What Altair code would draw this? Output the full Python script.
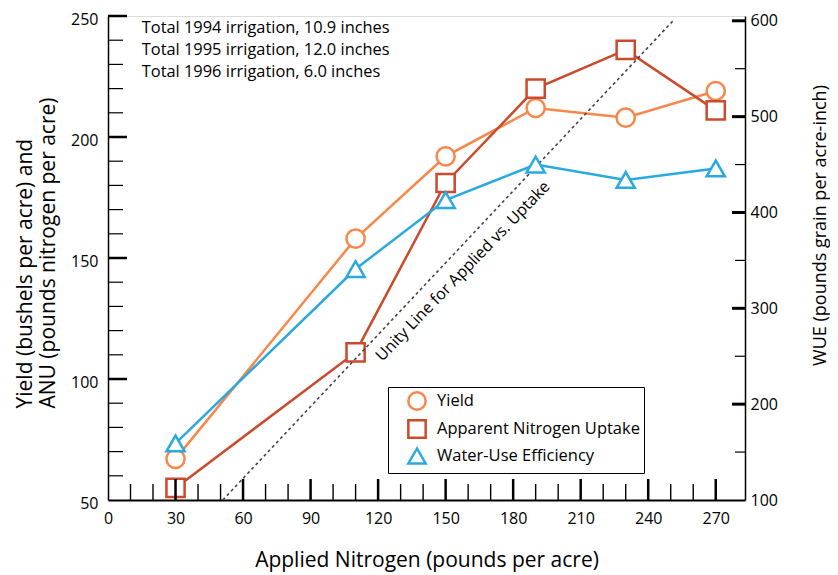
import altair as alt
import pandas as pd

FONT = "Open Sans"

# ---- data ----
nitrogen = [30, 110, 150, 190, 230, 270]
yield_bu = [67, 158, 192, 212, 208, 219]
anu_lb = [55, 111, 181, 220, 236, 211]
wue = [159, 341, 413, 450, 434, 446]

series_names = ["Yield", "Apparent Nitrogen Uptake", "Water-Use Efficiency"]
series_colors = ["#F7874A", "#CC4A2C", "#2AA9E0"]
series_shapes = ["circle", "square", "triangle-up"]

x_labels = [0, 30, 60, 90, 120, 150, 180, 210, 240, 270]
x_minor = [10, 20, 40, 50, 70, 80, 100, 110, 130, 140, 160, 170, 190, 200, 220, 230, 250, 260]
x_major = [30, 60, 90, 120, 150, 180, 210, 240, 270]
left_labels = [50, 100, 150, 200, 250]
left_minor = [60, 70, 80, 90, 110, 120, 130, 140, 160, 170, 180, 190, 210, 220, 230, 240]
left_major = [100, 150, 200, 250]
right_labels = [100, 200, 300, 400, 500, 600]
right_minor = [150, 250, 350, 450, 550]
right_major = [200, 300, 400, 500, 600]

unity_n = [51, 251]
unity_v = [50, 248]
unity_label = ["Unity Line for Applied vs. Uptake"]
unity_label_n = [157.7]
unity_label_v = [144.5]

notes = ["Total 1994 irrigation, 10.9 inches",
         "Total 1995 irrigation, 12.0 inches",
         "Total 1996 irrigation, 6.0 inches"]
notes_n = [15, 15, 15]
notes_v = [245, 236, 227]

# ---- tables ----
all_df = pd.DataFrame({
    "n": nitrogen * 3,
    "v": yield_bu + anu_lb + wue,
    "series": [series_names[0]] * len(nitrogen) + [series_names[1]] * len(nitrogen)
              + [series_names[2]] * len(nitrogen),
})
left_df = all_df[all_df["series"] != series_names[2]]
right_df = all_df[all_df["series"] == series_names[2]]
unity_df = pd.DataFrame({"n": unity_n, "v": unity_v})
unity_text_df = pd.DataFrame({"n": unity_label_n, "v": unity_label_v, "t": unity_label})
notes_df = pd.DataFrame({"n": notes_n, "v": notes_v, "t": notes})
xminor_df = pd.DataFrame({"n": x_minor, "v": [50] * len(x_minor)})
xmajor_df = pd.DataFrame({"n": x_major, "v": [50] * len(x_major)})
lminor_df = pd.DataFrame({"n": [0] * len(left_minor), "v": left_minor})
lmajor_df = pd.DataFrame({"n": [0] * len(left_major), "v": left_major})
rminor_df = pd.DataFrame({"n": [283] * len(right_minor), "v": right_minor})
rmajor_df = pd.DataFrame({"n": [283] * len(right_major), "v": right_major})

# ---- scales / axes ----
x_scale = alt.Scale(domain=[0, 283], nice=False, zero=False)
yl_scale = alt.Scale(domain=[50, 250], nice=False, zero=False)
yr_scale = alt.Scale(domain=[100, 605], nice=False, zero=False)

x_axis = alt.Axis(values=x_labels, ticks=False, grid=False, domainColor="black", domainWidth=1.8,
                  labelFontSize=16, labelFont=FONT, labelColor="black", labelPadding=10,
                  labelFlush=False, labelOverlap=False,
                  title="Applied Nitrogen (pounds per acre)", titleFont=FONT, titleFontSize=21,
                  titleFontWeight="normal", titleColor="black", titleY=60, titleBaseline="middle")
yl_axis = alt.Axis(values=left_labels, ticks=False, grid=False, domainColor="black", domainWidth=1.5,
                   labelFontSize=16, labelFont=FONT, labelColor="black", labelPadding=10,
                   labelOffset=3, labelFlush=False, labelOverlap=False,
                   title=["Yield (bushels per acre) and", "ANU (pounds nitrogen per acre)"],
                   titleFont=FONT, titleFontSize=21, titleFontWeight="normal", titleColor="black",
                   titleAngle=270, titleX=-83, titleY=392, titleBaseline="middle",
                   titleAlign="left", titleLineHeight=23)
yr_axis = alt.Axis(values=right_labels, ticks=False, grid=False, domainColor="black", domainWidth=1.5,
                   labelFontSize=16, labelFont=FONT, labelColor="black", labelPadding=5,
                   labelFlush=False, labelOverlap=False, orient="right",
                   title="WUE (pounds grain per acre-inch)", titleFont=FONT, titleFontSize=18,
                   titleFontWeight="normal", titleColor="black", titleAngle=270, titleX=75,
                   titleY=209, titleBaseline="middle", titleAlign="center")

legend = alt.Legend(title="", orient="none", legendX=280, legendY=371, strokeColor="black",
                    fillColor="white", padding=4, symbolSize=300, symbolStrokeWidth=2.5,
                    symbolOffset=15, labelFontSize=16.5, labelFont=FONT, labelColor="black",
                    rowPadding=0, labelOffset=10, labelLimit=400)
color_scale = alt.Scale(domain=series_names, range=series_colors)
shape_scale = alt.Scale(domain=series_names, range=series_shapes)


def X():
    return alt.X("n:Q", scale=x_scale, axis=x_axis)


def YL():
    return alt.Y("v:Q", scale=yl_scale, axis=yl_axis)


def YR():
    return alt.Y("v:Q", scale=yr_scale, axis=yr_axis)


def series_layers(df, Yf):
    line = alt.Chart(df).mark_line(strokeWidth=2.5).encode(
        x=X(), y=Yf(),
        color=alt.Color("series:N", scale=color_scale, legend=legend))
    pts = alt.Chart(df).mark_point(filled=False, fill="white", strokeWidth=2.5, size=330, opacity=1).encode(
        x=X(), y=Yf(),
        color=alt.Color("series:N", scale=color_scale, legend=legend),
        shape=alt.Shape("series:N", scale=shape_scale, legend=legend))
    return line, pts


def ticks(df, Yf, orient, size, thickness, xoff=0, yoff=0):
    return alt.Chart(df).mark_tick(orient=orient, size=size, thickness=thickness, color="black",
                                   xOffset=xoff, yOffset=yoff, opacity=1).encode(x=X(), y=Yf())


unity = alt.Chart(unity_df).mark_line(color="#444444", strokeWidth=1.6, strokeDash=[3, 3]).encode(x=X(), y=YL())
unity_text = alt.Chart(unity_text_df).mark_text(angle=314, font=FONT, fontSize=16, color="black",
                                                 align="center", baseline="middle").encode(
    x=X(), y=YL(), text="t:N")
notes_text = alt.Chart(notes_df).mark_text(font=FONT, fontSize=16.4, color="black", align="left",
                                           baseline="middle").encode(x=X(), y=YL(), text="t:N")

l_line, l_pts = series_layers(left_df, YL)
r_line, r_pts = series_layers(right_df, YR)

left = alt.layer(
    l_line, l_pts, unity, unity_text, notes_text,
    ticks(xminor_df, YL, "vertical", 16, 1.4, yoff=-8),
    ticks(xmajor_df, YL, "vertical", 21, 2.5, yoff=-10.5),
    ticks(lminor_df, YL, "horizontal", 15, 1.2, xoff=7.5),
    ticks(lmajor_df, YL, "horizontal", 19, 2.5, xoff=9.5),
)
right = alt.layer(
    r_line, r_pts,
    ticks(rminor_df, YR, "horizontal", 10, 1.2, xoff=-5),
    ticks(rmajor_df, YR, "horizontal", 13, 3, xoff=-6.5),
)

chart = alt.layer(left, right).resolve_scale(y="independent").properties(
    width=637, height=484,
    autosize=alt.AutoSizeParams(type="none"),
    padding={"left": 100, "top": 8, "right": 85, "bottom": 75},
).configure_view(stroke=None).configure(background="white")

chart.save("out.html", embed_options={"renderer": "svg", "actions": False})
